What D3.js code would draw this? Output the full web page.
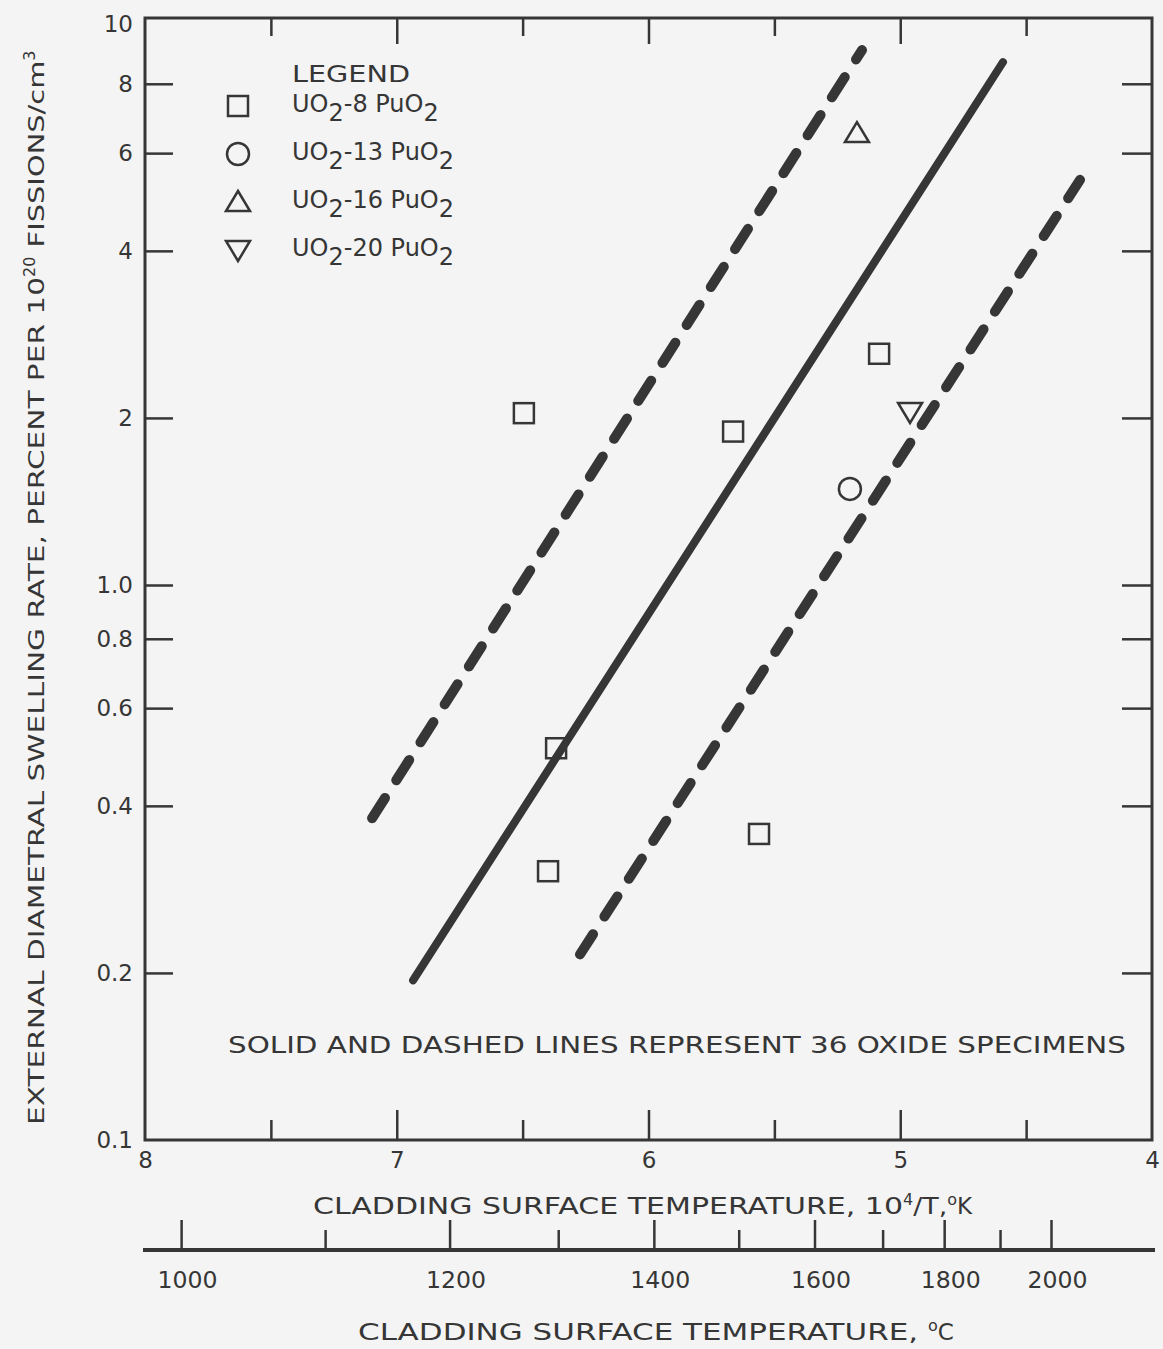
<!DOCTYPE html>
<html>
<head>
  <title>Swelling rate vs cladding temperature</title>
  <script src="https://d3js.org/d3.v7.min.js"></script>
  <style>
    body { margin: 0; background: #f4f4f4; }
    text { font-family: "DejaVu Sans", "Liberation Sans", Arial, sans-serif; fill: #363636; }
  </style>
</head>
<body>
<script>
// data
var yTicks = [0.1, 0.2, 0.4, 0.6, 0.8, 1.0, 2, 4, 6, 8, 10];
var yTickLabels = ["0.1", "0.2", "0.4", "0.6", "0.8", "1.0", "2", "4", "6", "8", "10"];
var xMajor = [8, 7, 6, 5, 4];
var xMinor = [7.5, 6.5, 5.5, 4.5];
var cMajor = [1000, 1200, 1400, 1600, 1800, 2000];
var cMinor = [1100, 1300, 1500, 1700, 1900];

// points: 10^4/T and swelling rate
var sqX = [6.495, 5.664, 5.084, 6.367, 6.399, 5.561];
var sqY = [2.04, 1.89, 2.61, 0.508, 0.305, 0.356];
var circX = [5.20];
var circY = [1.49];
var triUpX = [5.172];
var triUpY = [6.52];
var triDnX = [4.961];
var triDnY = [2.05];

// bands
var solidX = [6.935, 4.592];
var solidY = [0.194, 8.75];
var upperX = [7.098, 5.152];
var upperY = [0.38, 9.2];
var lowerX = [6.272, 4.286];
var lowerY = [0.216, 5.37];

var legendItems = ["8", "13", "16", "20"];
var legendShapes = ["square", "circle", "up", "down"];

var W = 1163, H = 1349;
var pL = 145, pR = 1152, pT = 18, pB = 1140;
var ink = "#363636";

var x = d3.scaleLinear().domain([8, 4]).range([pL, pR]);
var y = d3.scaleLog().domain([0.1, 10]).range([pB, 30]);

var svg = d3.select("body").append("svg")
    .attr("width", W)
    .attr("height", H);

// frame
svg.append("rect")
    .attr("x", pL).attr("y", pT)
    .attr("width", pR - pL).attr("height", pB - pT)
    .attr("fill", "none").attr("stroke", ink).attr("stroke-width", 3);

// left axis
var gl = svg.append("g").attr("transform", "translate(" + pL + ",0)")
    .call(d3.axisLeft(y).tickValues(yTicks).tickSizeInner(-28).tickSizeOuter(0).tickPadding(12)
      .tickFormat(function(d, i) { return yTickLabels[i]; }));
gl.select(".domain").remove();
gl.selectAll(".tick line").attr("stroke", ink).attr("stroke-width", 2.5)
    .filter(function(d) { return d === 0.1 || d === 10; }).remove();
gl.selectAll(".tick text").attr("font-size", 23).attr("fill", ink).style("font-family", "DejaVu Sans");
gl.selectAll(".tick").filter(function(d) { return d === 10; }).select("text").attr("y", -6);

// right axis
var gr = svg.append("g").attr("transform", "translate(" + pR + ",0)")
    .call(d3.axisRight(y).tickValues(yTicks.slice(1, -1)).tickSizeInner(-30).tickSizeOuter(0).tickFormat(""));
gr.select(".domain").remove();
gr.selectAll(".tick line").attr("stroke", ink).attr("stroke-width", 2.5);

// bottom axis, ticks inward
function xTicks(g, vals, len, fmt) {
  g.call(d3.axisBottom(x).tickValues(vals).tickSizeInner(-len).tickSizeOuter(0).tickFormat(fmt));
  g.select(".domain").remove();
  g.selectAll(".tick line").attr("stroke", ink).attr("stroke-width", 2.5);
}
var gbMaj = svg.append("g").attr("transform", "translate(0," + pB + ")");
xTicks(gbMaj, xMajor, 30, d3.format("d"));
gbMaj.selectAll(".tick text").attr("y", 12).attr("font-size", 23).attr("fill", ink).style("font-family", "DejaVu Sans");
gbMaj.selectAll(".tick").filter(function(d) { return d === 8 || d === 4; }).select("line").remove();
var gbMin = svg.append("g").attr("transform", "translate(0," + pB + ")");
xTicks(gbMin, xMinor, 20, "");

// top axis, ticks inward
function topTicks(vals, len) {
  var g = svg.append("g").attr("transform", "translate(0," + pT + ")")
      .call(d3.axisTop(x).tickValues(vals).tickSizeInner(-len).tickSizeOuter(0).tickFormat(""));
  g.select(".domain").remove();
  g.selectAll(".tick line").attr("stroke", ink).attr("stroke-width", 2.5);
}
topTicks(xMajor.slice(1, -1), 26);
topTicks(xMinor, 18);

// x title
var xt = svg.append("text").attr("x", 313).attr("y", 1214)
    .attr("font-size", 23);
xt.append("tspan").attr("textLength", 590).attr("lengthAdjust", "spacingAndGlyphs").text("CLADDING SURFACE TEMPERATURE, 10");
xt.append("tspan").attr("dy", -9).attr("font-size", 16).text("4");
xt.append("tspan").attr("dy", 9).attr("textLength", 34).attr("lengthAdjust", "spacingAndGlyphs").text("/T,");
xt.append("tspan").attr("dy", -9).attr("font-size", 16).text("o");
xt.append("tspan").attr("dy", 9).text("K");

// Celsius scale
var cY = 1250;
function cPos(c) { return x(1e4 / (c + 273.15)); }
svg.append("line").attr("x1", 143).attr("x2", 1155).attr("y1", cY).attr("y2", cY)
    .attr("stroke", ink).attr("stroke-width", 4);
svg.selectAll(".cmaj").data(cMajor).enter().append("line")
    .attr("x1", cPos).attr("x2", cPos).attr("y1", cY).attr("y2", cY - 30)
    .attr("stroke", ink).attr("stroke-width", 2.5);
svg.selectAll(".cmin").data(cMinor).enter().append("line")
    .attr("x1", cPos).attr("x2", cPos).attr("y1", cY).attr("y2", cY - 20)
    .attr("stroke", ink).attr("stroke-width", 2.5);
svg.selectAll(".clab").data(cMajor).enter().append("text")
    .attr("x", function(d) { return cPos(d) + 6; }).attr("y", 1288)
    .attr("text-anchor", "middle").attr("font-size", 23)
    .attr("textLength", 60).attr("lengthAdjust", "spacingAndGlyphs")
    .text(function(d) { return d; });
var ct = svg.append("text").attr("x", 358).attr("y", 1340)
    .attr("font-size", 23);
ct.append("tspan").attr("textLength", 570).attr("lengthAdjust", "spacingAndGlyphs").text("CLADDING SURFACE TEMPERATURE, ");
ct.append("tspan").attr("dy", -9).attr("font-size", 16).text("o");
ct.append("tspan").attr("dy", 9).text("C");

// y title
var yt = svg.append("text")
    .attr("transform", "translate(44,1125) rotate(-90)")
    .attr("font-size", 22);
yt.append("tspan").attr("textLength", 848).attr("lengthAdjust", "spacingAndGlyphs")
    .text("EXTERNAL DIAMETRAL SWELLING RATE, PERCENT PER 10");
yt.append("tspan").attr("dy", -9).attr("font-size", 16).text("20");
yt.append("tspan").attr("dy", 9).attr("textLength", 196).attr("lengthAdjust", "spacingAndGlyphs").text(" FISSIONS/cm");
yt.append("tspan").attr("dy", -9).attr("font-size", 16).text("3");

// band lines
var line = d3.line()
    .x(function(d) { return x(d[0]); })
    .y(function(d) { return y(d[1]); });
svg.append("path").datum(d3.zip(solidX, solidY)).attr("d", line)
    .attr("fill", "none").attr("stroke", ink).attr("stroke-width", 8).attr("stroke-linecap", "round");
[[upperX, upperY], [lowerX, lowerY]].forEach(function(b) {
  svg.append("path").datum(d3.zip(b[0], b[1])).attr("d", line)
      .attr("fill", "none").attr("stroke", ink).attr("stroke-width", 10)
      .attr("stroke-linecap", "round").attr("stroke-dasharray", "24,21");
});

// markers
function marker(g, shape) {
  if (shape === "square") {
    g.append("rect").attr("x", -10).attr("y", -10).attr("width", 20).attr("height", 20);
  } else if (shape === "circle") {
    g.append("circle").attr("r", 11);
  } else if (shape === "up") {
    g.append("path").attr("d", "M0,-11L12,9L-12,9Z");
  } else {
    g.append("path").attr("d", "M0,11L12,-9L-12,-9Z");
  }
  g.selectAll("*").attr("fill", "none").attr("stroke", ink).attr("stroke-width", 2.5);
}
function plotPoints(xs, ys, shape) {
  d3.zip(xs, ys).forEach(function(p) {
    var g = svg.append("g").attr("transform", "translate(" + x(p[0]) + "," + y(p[1]) + ")");
    marker(g, shape);
  });
}
plotPoints(sqX, sqY, "square");
plotPoints(circX, circY, "circle");
plotPoints(triUpX, triUpY, "up");
plotPoints(triDnX, triDnY, "down");

// legend
svg.append("text").attr("x", 292).attr("y", 82).attr("font-size", 23)
    .attr("textLength", 118).attr("lengthAdjust", "spacingAndGlyphs").text("LEGEND");
legendItems.forEach(function(n, i) {
  var ly = 106 + i * 48;
  var g = svg.append("g").attr("transform", "translate(238," + ly + ")");
  marker(g, legendShapes[i]);
  var t = svg.append("text").attr("x", 292).attr("y", ly + 6).attr("font-size", 24);
  t.append("tspan").text("UO");
  t.append("tspan").attr("dy", 9).text("2");
  t.append("tspan").attr("dy", -9).text("-" + n + " PuO");
  t.append("tspan").attr("dy", 9).text("2");
});

// note
svg.append("text").attr("x", 228).attr("y", 1053).attr("font-size", 23)
    .attr("textLength", 898).attr("lengthAdjust", "spacingAndGlyphs")
    .text("SOLID AND DASHED LINES REPRESENT 36 OXIDE SPECIMENS");
</script>
</body>
</html>
